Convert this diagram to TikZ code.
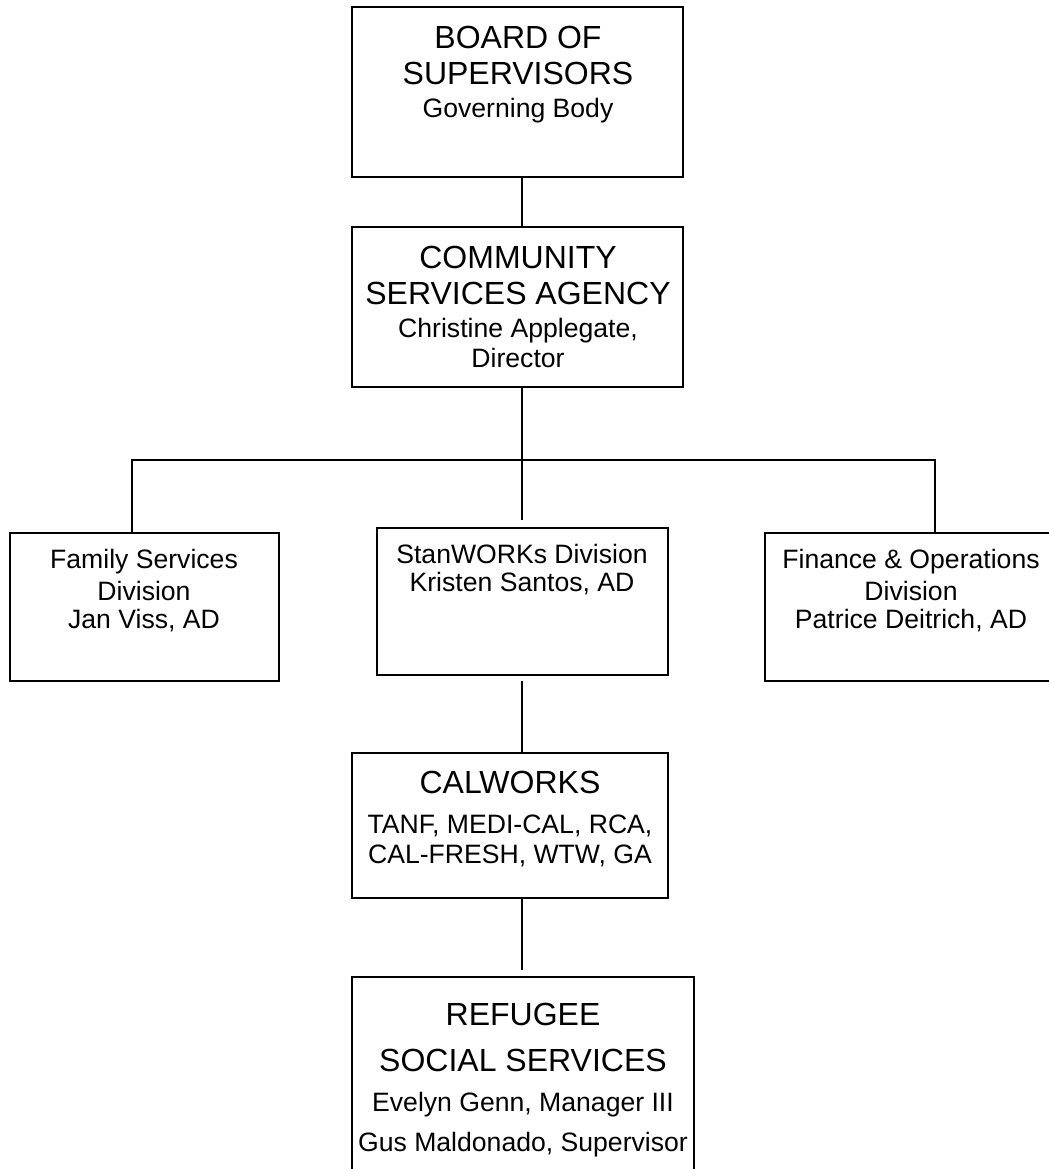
\documentclass[tikz,border=0pt]{standalone}
\usepackage{fontspec}
\setmainfont{Liberation Sans}
\usepackage{tikz}

\begin{document}
\begin{tikzpicture}[x=0.5pt,y=-0.5pt]
\tikzstyle{every node}+=[inner sep=0pt, outer sep=0pt]
\tikzstyle{box}=[draw=black, line width=1.1pt, rectangle]
\tikzstyle{wire}=[black, line width=0.9pt]
\tikzstyle{big}=[anchor=base, font=\fontsize{16pt}{18pt}\selectfont]
\tikzstyle{small}=[anchor=base, font=\fontsize{13.3pt}{15pt}\selectfont]
\useasboundingbox (0,0) rectangle (1049,1169);
% boxes
\node [box, minimum width=165.5pt, minimum height=85pt] (board) at (517.5,92) {};
\node [box, minimum width=165.5pt, minimum height=80pt] (csa) at (517.5,307) {};
\node [box, minimum width=134.5pt, minimum height=74pt] (family) at (144.5,607) {};
\node [box, minimum width=145.5pt, minimum height=73.5pt] (stan) at (522.5,601.5) {};
\node [box, minimum width=167.5pt, minimum height=74pt] (finance) at (932.5,607) {};
\node [box, minimum width=158pt, minimum height=72.5pt] (calworks) at (510,825.5) {};
\node [box, minimum width=171pt, minimum height=106.5pt] (refugee) at (523,1083.5) {};
% texts
\node [big] (board-1) at (518,48) {BOARD OF};
\node [big] (board-2) at (518,84) {SUPERVISORS};
\node [small] (board-3) at (518,117) {Governing Body};
\node [big] (csa-1) at (518,268) {COMMUNITY};
\node [big] (csa-2) at (518,304) {SERVICES AGENCY};
\node [small] (csa-3) at (518,337) {Christine Applegate,};
\node [small] (csa-4) at (518,367) {Director};
\node [small] (family-1) at (144,568) {Family Services};
\node [small] (family-2) at (144,600) {Division};
\node [small] (family-3) at (144,628) {Jan Viss, AD};
\node [small] (stan-1) at (522,563) {StanWORKs Division};
\node [small] (stan-2) at (522,591) {Kristen Santos, AD};
\node [small] (finance-1) at (911,568) {Finance \& Operations};
\node [small] (finance-2) at (911,600) {Division};
\node [small] (finance-3) at (911,628) {Patrice Deitrich, AD};
\node [big] (calworks-1) at (510,793) {CALWORKS};
\node [small] (calworks-2) at (510,833) {TANF, MEDI-CAL, RCA,};
\node [small] (calworks-3) at (510,863) {CAL-FRESH, WTW, GA};
\node [big] (refugee-1) at (523,1025) {REFUGEE};
\node [big] (refugee-2) at (523,1071) {SOCIAL SERVICES};
\node [small] (refugee-3) at (523,1111) {Evelyn Genn, Manager III};
\node [small] (refugee-4) at (523,1151) {Gus Maldonado, Supervisor};
% connectors
\coordinate (spine) at (522,0);
\coordinate (busL) at (132,460);
\coordinate (busR) at (935,460);
\coordinate (stangap) at (522,520);
\coordinate (calgap) at (522,681);
\coordinate (refgap) at (522,970);
\draw [wire] (board.south -| spine) -- (csa.north -| spine);
\draw [wire] (csa.south -| spine) -- (stangap);
\draw [wire] (family.north -| busL) -- (busL) -- (busR) -- (finance.north -| busR);
\draw [wire] (calgap) -- (calworks.north -| spine);
\draw [wire] (calworks.south -| spine) -- (refgap);
\end{tikzpicture}
\end{document}
